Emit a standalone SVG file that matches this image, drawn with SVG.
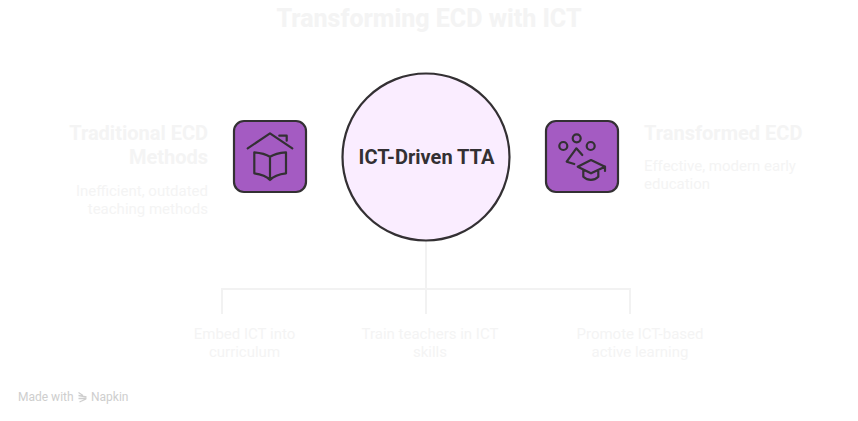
<svg xmlns="http://www.w3.org/2000/svg" width="858" height="421" viewBox="0 0 858 421">
<style>
text{font-family:Roboto,"Liberation Sans",sans-serif}
.t{font-weight:700;font-size:20px;fill:#f4f4f4}
.d{font-weight:400;font-size:15px;fill:#f4f4f4}
.c{font-weight:400;font-size:15px;fill:#f4f4f4;text-anchor:middle}
.box{fill:#a45bc2;stroke:#333033;stroke-width:2.2}
.ic{fill:none;stroke:#333033;stroke-width:2.2;stroke-linecap:round;stroke-linejoin:round}
.conn{fill:none;stroke:#f2f2f2;stroke-width:2}
.e{text-anchor:end}
.wm{font-size:12px;fill:#cecece}
</style>
<rect width="858" height="421" fill="#fff"/>
<text id="title" x="429" y="27" text-anchor="middle" font-size="25" font-weight="800" fill="#f4f4f4">Transforming ECD with ICT</text>
<g id="connectors" class="conn">
<path d="M426 240V314"/>
<path d="M222 314V289H630V314"/>
</g>
<g id="node-left">
<rect class="box" x="234" y="121" width="72" height="71" rx="10"/>
<path class="ic" d="M247.700 148.300L270 133.300L292.300 148.300M279.300 135.700H286.700V140.700"/>
<path class="ic" d="M270 156.700C265 153.500 260 152.800 254.300 152.300V173.300C260 174 266 175.500 270 180C274 175.500 280 174 286 173.300V152.300C280 152.800 275 153.500 270 156.700ZM270 156.700V180"/>
</g>
<g id="node-center">
<circle cx="426" cy="157" r="83.500" fill="#faedff" stroke="#333033" stroke-width="2.200"/>
<text x="426.500" y="164" text-anchor="middle" font-size="20" font-weight="700" fill="#333033">ICT-Driven TTA</text>
</g>
<g id="node-right">
<rect class="box" x="546" y="121" width="72" height="71" rx="10"/>
<circle class="ic" cx="563.300" cy="146" r="4"/>
<circle class="ic" cx="576.700" cy="138.300" r="4"/>
<circle class="ic" cx="590.700" cy="146" r="4"/>
<path class="ic" d="M582.300 155L576.300 148.300L566.700 161.700L574.300 164"/>
<path class="ic" d="M577.700 166.700L591 160L605 166.700L591 173.300ZM583.300 170V176.700C588 181 594 181 598.300 176.700V170M605 166.700V171"/>
</g>
<g id="label-left">
<text class="t e" x="208" y="140">Traditional ECD</text>
<text class="t e" x="208" y="164">Methods</text>
<text class="d e" x="208" y="196">Inefficient, outdated</text>
<text class="d e" x="208" y="214">teaching methods</text>
</g>
<g id="label-right">
<text class="t" x="644" y="140">Transformed ECD</text>
<text class="d" x="644" y="171">Effective, modern early</text>
<text class="d" x="644" y="189">education</text>
</g>
<g id="label-1">
<text class="c" x="244.500" y="339">Embed ICT into</text>
<text class="c" x="244.500" y="357">curriculum</text>
</g>
<g id="label-2">
<text class="c" x="430" y="339">Train teachers in ICT</text>
<text class="c" x="430" y="357">skills</text>
</g>
<g id="label-3">
<text class="c" x="640" y="339">Promote ICT-based</text>
<text class="c" x="640" y="357">active learning</text>
</g>
<g id="watermark">
<text class="wm" x="18" y="401">Made with</text>
<path d="M78.500 392.500L83 395.500M78.500 395.500L86.500 397M78.500 398.500L86.500 398.500M79.500 402L86 399" fill="none" stroke="#cecece" stroke-width="1.300"/>
<text class="wm" x="91" y="401">Napkin</text>
</g>
</svg>
